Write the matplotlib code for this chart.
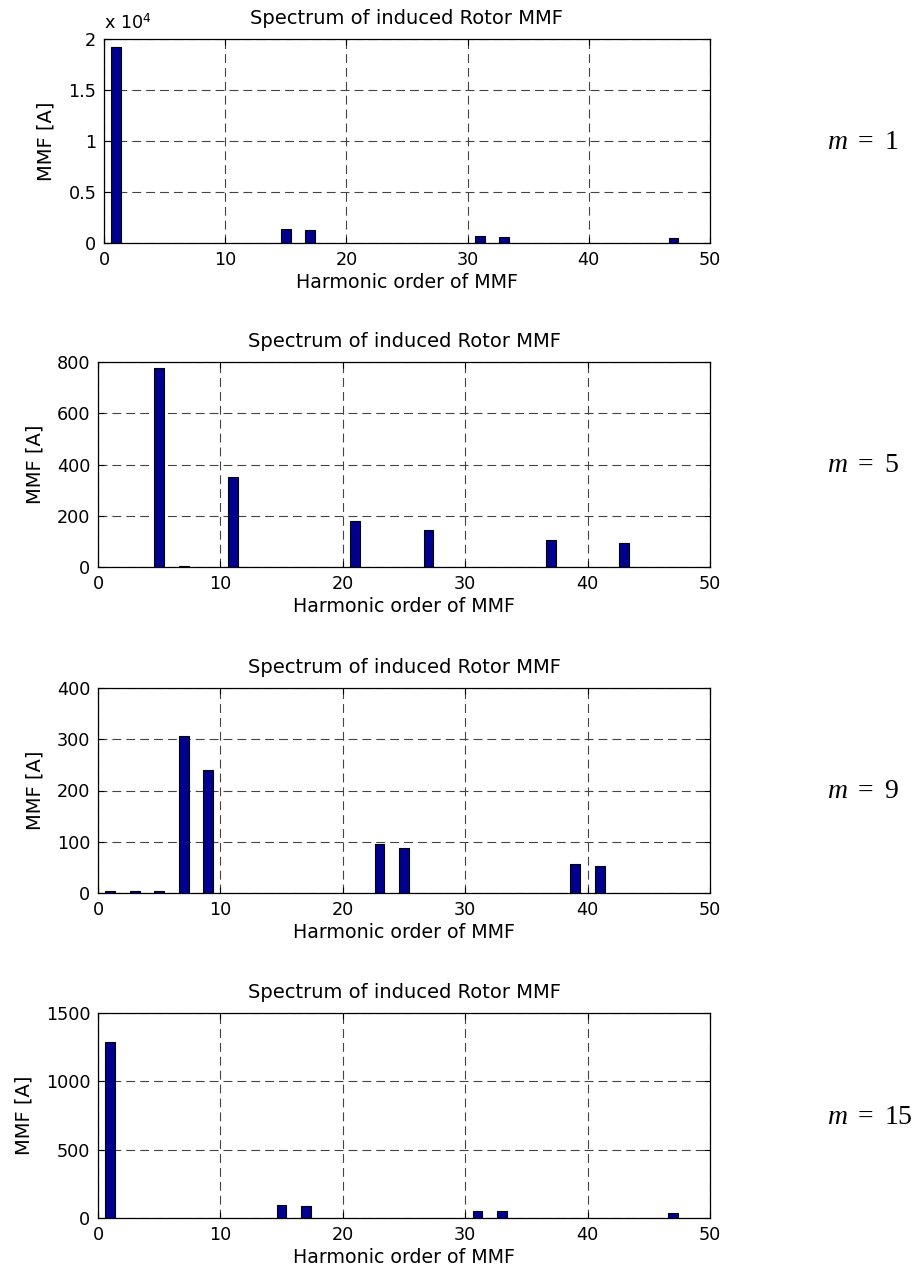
import matplotlib
matplotlib.use("Agg")
import matplotlib.pyplot as plt
from matplotlib.ticker import FuncFormatter

plt.rcParams['font.family'] = ['DejaVu Sans']
plt.rcParams['mathtext.fontset'] = 'custom'
plt.rcParams['mathtext.it'] = 'Liberation Serif:italic'
plt.rcParams['mathtext.rm'] = 'Liberation Serif'

# Harmonic orders and MMF amplitudes [A]
h_m1 = [1, 15, 17, 31, 33, 47]
v_m1 = [19200, 1420, 1270, 640, 620, 480]

h_m5 = [5, 7, 11, 21, 27, 37, 43]
v_m5 = [775, 5, 350, 180, 145, 105, 93]

h_m9 = [1, 3, 5, 7, 9, 23, 25, 39, 41]
v_m9 = [3, 3, 3, 307, 240, 95, 88, 56, 53]

h_m15 = [1, 15, 17, 31, 33, 47]
v_m15 = [1290, 97, 85, 48, 48, 36]

labels = ['1', '5', '9', '15']
ylims = [20000, 800, 400, 1500]
yticks = [[0, 5000, 10000, 15000, 20000],
          [0, 200, 400, 600, 800],
          [0, 100, 200, 300, 400],
          [0, 500, 1000, 1500]]
xticks = [0, 10, 20, 30, 40, 50]

W, H = 919, 1276
fig = plt.figure(figsize=(W / 100, H / 100), dpi=100)

# axes pixel boxes: left, right, top, bottom
boxes = [(104, 710, 39, 243), (98, 710, 362, 567), (98, 710, 688, 893), (98, 710, 1013, 1218)]
data = [(h_m1, v_m1), (h_m5, v_m5), (h_m9, v_m9), (h_m15, v_m15)]

fs = 12.7
for i, ((l, r, t, b), (hx, hv)) in enumerate(zip(boxes, data)):
    ax = fig.add_axes([l / W, 1 - b / H, (r - l) / W, (b - t) / H])
    ax.bar(hx, hv, width=0.8, color='#00008F', edgecolor='black', linewidth=0.8, zorder=3)
    ax.set_xlim(0, 50)
    ax.set_ylim(0, ylims[i])
    ax.set_xticks(xticks)
    ax.set_yticks(yticks[i])
    if i == 0:
        ax.yaxis.set_major_formatter(FuncFormatter(lambda v, p: '%g' % (v / 1e4)))
        ax.text(0.0, 1.05, r'x 10$^{\mathregular{4}}$', transform=ax.transAxes,
                fontsize=fs, ha='left', va='baseline')
    ax.grid(True, linestyle=(0, (8, 4.5)), color='#444444', linewidth=0.8, zorder=0)
    ax.tick_params(direction='in', top=True, right=True, labelsize=fs, length=4, pad=5.5)
    for s in ax.spines.values():
        s.set_linewidth(0.9)
    ax.set_title('Spectrum of induced Rotor MMF', fontsize=14, pad=11)
    ax.set_xlabel('Harmonic order of MMF', fontsize=13.7, labelpad=3)
    ax.set_ylabel('MMF [A]', fontsize=14, labelpad=9)
    yc = (t + b) / 2
    fig.text(827 / W, 1 - yc / H, r'$m\ =\ ' + labels[i] + '$', fontsize=20,
             ha='left', va='center')

fig.savefig('out.png', dpi=100)
